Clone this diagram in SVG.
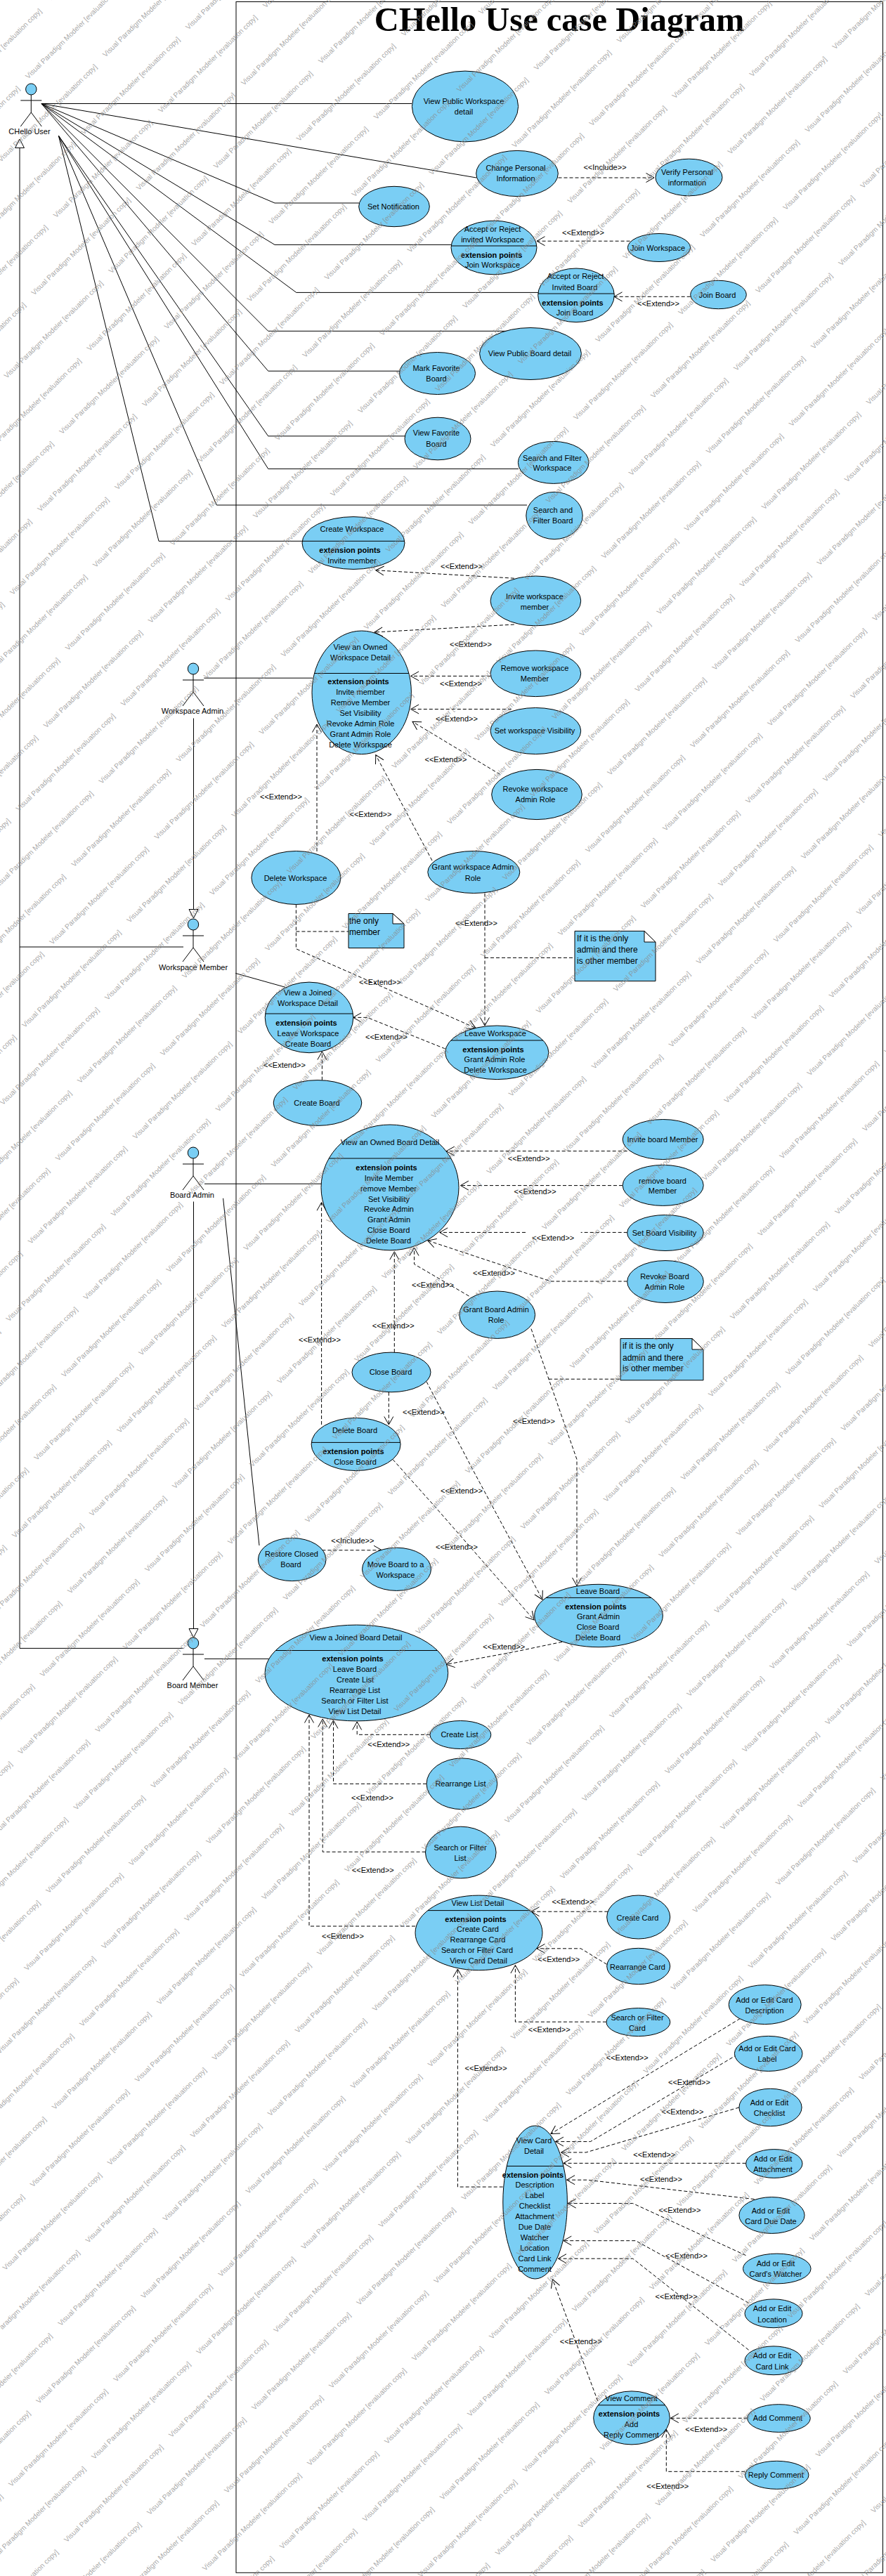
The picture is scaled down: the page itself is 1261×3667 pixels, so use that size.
<svg xmlns="http://www.w3.org/2000/svg" width="1261" height="3667" viewBox="0 0 1261 3667">
<style>
text{font-family:"Liberation Sans",Arial,sans-serif;font-size:11px;fill:#000;text-anchor:middle}
.b{font-weight:bold}
.n{font-size:12px;text-anchor:start}
.title{font-family:"Liberation Serif","Times New Roman",serif;font-size:48.5px;font-weight:bold}
.wt{font-size:10.2px;fill:#8a8a8a;text-anchor:start;fill-opacity:.75}
ellipse{fill:#7acef4;stroke:#000;stroke-width:1}
.l,.a,.d,.g{fill:none;stroke:#000;stroke-width:1}
.d{stroke-dasharray:5 3;marker-end:url(#open)}
.q{fill:none;stroke:#000;stroke-width:1;stroke-dasharray:5 3}
.g{marker-end:url(#tri)}
.note{fill:#7acef4;stroke:#000;stroke-width:1}
.fold{fill:#fff;stroke:#000;stroke-width:1}
</style>
<defs>
<marker id="open" markerUnits="userSpaceOnUse" markerWidth="16" markerHeight="16" viewBox="-13 -8 16 16" refX="0" refY="0" orient="auto"><path d="M-11.5,-6.5L0,0L-11.5,6.5" fill="none" stroke="#000" stroke-width="1"/></marker>
<marker id="tri" markerUnits="userSpaceOnUse" markerWidth="18" markerHeight="18" viewBox="-15 -9 18 18" refX="0" refY="0" orient="auto"><path d="M-12.5,-6.5L0,0L-12.5,6.5Z" fill="#fff" stroke="#000" stroke-width="1"/></marker>
<g id="actor"><ellipse cx="0" cy="0" rx="7.7" ry="8"/><path class="l" d="M-15,16H15M0,8V33M-15,53L0,33L15,53"/></g>
<text id="wm" class="wt" transform="rotate(-44.5)">Visual Paradigm Modeler [evaluation copy]</text>
<g id="wp"><use href="#wm"/><use href="#wm" x="110" y="-31"/></g>
<g id="w8"><use href="#wp"/><use href="#wp" x="78.85" y="79.35"/><use href="#wp" x="157.7" y="158.7"/><use href="#wp" x="236.55" y="238.05"/><use href="#wp" x="315.4" y="317.4"/><use href="#wp" x="394.25" y="396.75"/><use href="#wp" x="473.1" y="476.1"/><use href="#wp" x="551.95" y="555.45"/></g>
<g id="wr"><use href="#w8" x="-630.8" y="-634.8"/><use href="#w8"/><use href="#w8" x="630.8" y="634.8"/><use href="#w8" x="1261.6" y="1269.6"/><use href="#w8" x="1892.4" y="1904.4"/><use href="#w8" x="2523.2" y="2539.2"/></g>
</defs>
<rect width="1261" height="3667" fill="#fff"/>
<g id="frame"><rect x="336" y="2.5" width="920.5" height="3659.8" fill="none" stroke="#000" stroke-width="1"/><text class="title" x="796" y="43.5">CHello Use case Diagram</text></g>

<g id="connectors">
<path class="a" d="M59,147.5H586M59,147.5L678,253M59,147.5L391,289H511M59,147.5L391,348.4H642M59,147.5L421.7,416.4H766M59,147.5L381.7,471.3H722M59,147.5L381.7,528.2H570M83.3,193L381.7,620.8H577M83.3,193L381.7,667.4H738M83.3,193L308.3,719H750M83.3,193L226,770.3H431"/>
<path class="a" d="M290.3,965.2H445M335.3,1385.5L406,1405.3M291,1685.2H457M317.6,1705.8L369,2200M291,2361.4H385"/>
<path class="g" d="M275.5,1022.5V1307"/>
<path class="g" d="M275.5,1710.5V2331"/>
<path class="g" d="M261,1348H28V198"/>
<path class="a" d="M261,2346.4H28V1348"/>
<path class="d" d="M794.5,253H931"/><text x="861" y="242.4">&lt;&lt;Include&gt;&gt;</text>
<path class="d" d="M896.6,343.2H764"/><text x="830" y="335.4">&lt;&lt;Extend&gt;&gt;</text>
<path class="d" d="M982.7,422.3H874"/><text x="937" y="436">&lt;&lt;Extend&gt;&gt;</text>
<path class="d" d="M731.8,823.2L534.8,811.8"/><text x="657" y="810.2">&lt;&lt;Extend&gt;&gt;</text>
<path class="d" d="M731.8,889L533,900"/><text x="670" y="921.4">&lt;&lt;Extend&gt;&gt;</text>
<path class="d" d="M698,962.4H584.6"/><text x="656" y="977">&lt;&lt;Extend&gt;&gt;</text>
<path class="d" d="M727.8,1009.5H584.6"/><text x="650" y="1027">&lt;&lt;Extend&gt;&gt;</text>
<path class="d" d="M711.7,1102.4L587,1027.3"/><text x="634.5" y="1085">&lt;&lt;Extend&gt;&gt;</text>
<path class="d" d="M615,1225L534.8,1074.7"/><text x="527.5" y="1163">&lt;&lt;Extend&gt;&gt;</text>
<path class="d" d="M451,1212V1031"/><text x="400" y="1138">&lt;&lt;Extend&gt;&gt;</text>
<path class="d" d="M690,1271.6V1460"/><text x="678" y="1318">&lt;&lt;Extend&gt;&gt;</text>
<path class="q" d="M690,1363.4H818"/>
<path class="d" d="M421.4,1287.4V1350.7L677,1463.4"/><text x="541" y="1402">&lt;&lt;Extend&gt;&gt;</text>
<path class="q" d="M421.4,1326H496"/>
<path class="d" d="M633.7,1493L522.7,1448.4H502.6"/><text x="550" y="1480">&lt;&lt;Extend&gt;&gt;</text>
<path class="d" d="M458.4,1537.7V1497"/><text x="405" y="1520">&lt;&lt;Extend&gt;&gt;</text>
<path class="d" d="M892.7,1638.6H635.3"/><text x="752.7" y="1653">&lt;&lt;Extend&gt;&gt;</text>
<path class="d" d="M886,1687.6H655.4"/><text x="761.6" y="1700.3">&lt;&lt;Extend&gt;&gt;</text>
<path class="d" d="M892.7,1754.4H826.7M748,1754.4H625.7"/><text x="787.3" y="1766.3">&lt;&lt;Extend&gt;&gt;</text>
<path class="d" d="M892.7,1824H784L608.8,1766"/><text x="703" y="1816">&lt;&lt;Extend&gt;&gt;</text>
<path class="d" d="M667.5,1845L589.5,1799.5V1776"/><text x="616" y="1833">&lt;&lt;Extend&gt;&gt;</text>
<path class="d" d="M561.3,1925V1781.7"/><text x="559.7" y="1891">&lt;&lt;Extend&gt;&gt;</text>
<path class="d" d="M457.6,2028V1711.7"/><text x="455" y="1911">&lt;&lt;Extend&gt;&gt;</text>
<path class="d" d="M553.3,1981.8V2028"/><text x="603" y="2014">&lt;&lt;Extend&gt;&gt;</text>
<path class="d" d="M607,1966.8L675.5,2097L772,2277"/><text x="657" y="2126">&lt;&lt;Extend&gt;&gt;</text>
<path class="d" d="M559,2077.5L619,2144.7L760,2306"/><text x="650" y="2206.4">&lt;&lt;Extend&gt;&gt;</text>
<path class="d" d="M756,1891.6L821,2077.5V2257.4"/><text x="760" y="2027.3">&lt;&lt;Extend&gt;&gt;</text>
<path class="q" d="M780.8,1963.2H883"/>
<path class="d" d="M458.4,2206.8H543.6"/><text x="501.8" y="2196.5">&lt;&lt;Include&gt;&gt;</text>
<path class="d" d="M800,2337.3L727.8,2352.3L635.3,2369.3"/><text x="717.3" y="2348.4">&lt;&lt;Extend&gt;&gt;</text>
<path class="d" d="M612,2469.3H508.2V2451"/><text x="553.3" y="2486.8">&lt;&lt;Extend&gt;&gt;</text>
<path class="d" d="M607,2539.3H474.5V2449"/><text x="530" y="2563">&lt;&lt;Extend&gt;&gt;</text>
<path class="d" d="M605.6,2636.2H459.2V2447"/><text x="530.8" y="2666">&lt;&lt;Extend&gt;&gt;</text>
<path class="d" d="M591,2742H440V2441"/><text x="488" y="2760">&lt;&lt;Extend&gt;&gt;</text>
<path class="d" d="M865.3,2721.2H756"/><text x="815.4" y="2711.4">&lt;&lt;Extend&gt;&gt;</text>
<path class="d" d="M863.7,2796.3L826.7,2773.8H764"/><text x="795.3" y="2793.2">&lt;&lt;Extend&gt;&gt;</text>
<path class="d" d="M862.9,2878.2H733.4V2797.5"/><text x="781.7" y="2892.5">&lt;&lt;Extend&gt;&gt;</text>
<path class="d" d="M715.7,3113.1H651.4V2803"/><text x="691.6" y="2948">&lt;&lt;Extend&gt;&gt;</text>
<path class="d" d="M1053.5,2873.4L784,3037.5"/><text x="892.7" y="2933.2">&lt;&lt;Extend&gt;&gt;</text>
<path class="d" d="M1049.4,2924.8L840.4,3048.6H790.5"/><text x="981" y="2968.4">&lt;&lt;Extend&gt;&gt;</text>
<path class="d" d="M1051.9,3000L834,3064H798.5"/><text x="971.5" y="3010.3">&lt;&lt;Extend&gt;&gt;</text>
<path class="d" d="M1061.5,3079.4H801.8"/><text x="931.2" y="3071.2">&lt;&lt;Extend&gt;&gt;</text>
<path class="d" d="M1073.6,3130.6L836,3103.2H806.6"/><text x="941" y="3106.4">&lt;&lt;Extend&gt;&gt;</text>
<path class="d" d="M1061.5,3210.6L900.7,3136.6H808.2"/><text x="967.4" y="3150.4">&lt;&lt;Extend&gt;&gt;</text>
<path class="d" d="M1065.5,3278.2L904.7,3189.7H801.8"/><text x="977" y="3215.2">&lt;&lt;Extend&gt;&gt;</text>
<path class="d" d="M1065.5,3345.2L900.7,3215.2H794.5"/><text x="962.6" y="3273.1">&lt;&lt;Extend&gt;&gt;</text>
<path class="d" d="M850.8,3418L786.5,3244.8"/><text x="826.7" y="3337.4">&lt;&lt;Extend&gt;&gt;</text>
<path class="d" d="M1063.7,3442.3H954.3"/><text x="1005.3" y="3462.3">&lt;&lt;Extend&gt;&gt;</text>
<path class="d" d="M1060.3,3518.3H948.3V3458.3"/><text x="950.3" y="3543.3">&lt;&lt;Extend&gt;&gt;</text>
</g>

<g id="actor-chello-user"><use href="#actor" x="44.3" y="127"/><text x="42" y="191">CHello User</text></g>
<g id="actor-workspace-admin"><use href="#actor" x="275" y="952"/><text x="274" y="1016">Workspace Admin</text></g>
<g id="actor-workspace-member"><use href="#actor" x="275" y="1316"/><text x="275" y="1381">Workspace Member</text></g>
<g id="actor-board-admin"><use href="#actor" x="275" y="1641"/><text x="273.4" y="1705">Board Admin</text></g>
<g id="actor-board-member"><use href="#actor" x="275" y="2339"/><text x="274" y="2403">Board Member</text></g>

<g id="uc01"><ellipse cx="662" cy="151.5" rx="75.6" ry="50.4"/><text x="660" y="148">View Public Workspace</text><text x="660" y="163">detail</text></g>
<g id="uc02"><ellipse cx="736" cy="247" rx="58.3" ry="32.6"/><text x="734" y="243">Change Personal</text><text x="734" y="258">Information</text></g>
<g id="uc03"><ellipse cx="980.5" cy="252.5" rx="47.5" ry="26.3"/><text x="978" y="249">Verify Personal</text><text x="978" y="264">information</text></g>
<g id="uc04"><ellipse cx="561" cy="294" rx="50.3" ry="28.7"/><text x="560" y="298">Set Notification</text></g>
<g id="uc05"><ellipse cx="703" cy="352.5" rx="61" ry="38.3"/><path class="l" d="M642.1,350H763.9"/><text x="701" y="329.5">Accept or Reject</text><text x="701" y="344.5">invited Workspace</text><text class="b" x="699.6" y="366.6">extension points</text><text x="701" y="381">Join Workspace</text></g>
<g id="uc06"><ellipse cx="938" cy="352.5" rx="44.6" ry="20"/><text x="936" y="356.5">Join Workspace</text></g>
<g id="uc07"><ellipse cx="820" cy="420.3" rx="54.3" ry="38.3"/><path class="l" d="M765.8,418H874.2"/><text x="819" y="397.4">Accept or Reject</text><text x="818" y="412.5">Invited Board</text><text class="b" x="815" y="434.6">extension points</text><text x="818" y="449.3">Join Board</text></g>
<g id="uc08"><ellipse cx="1022.5" cy="419.5" rx="39.8" ry="20.2"/><text x="1021" y="423.5">Join Board</text></g>
<g id="uc09"><ellipse cx="755" cy="503.5" rx="72.4" ry="37"/><text x="754" y="507">View Public Board detail</text></g>
<g id="uc10"><ellipse cx="622.5" cy="531.5" rx="54" ry="30"/><text x="621" y="528">Mark Favorite</text><text x="621" y="543">Board</text></g>
<g id="uc11"><ellipse cx="623" cy="624.5" rx="47" ry="30.3"/><text x="621" y="620">View Favorite</text><text x="621" y="636">Board</text></g>
<g id="uc12"><ellipse cx="787.7" cy="658.4" rx="50.3" ry="30"/><text x="786" y="655.6">Search and Filter</text><text x="786" y="670.3">Workspace</text></g>
<g id="uc13"><ellipse cx="789" cy="734" rx="40.2" ry="33.6"/><text x="787" y="730.4">Search and</text><text x="787" y="745.4">Filter Board</text></g>
<g id="uc14"><ellipse cx="503" cy="773" rx="73" ry="37.4"/><path class="l" d="M430.1,770.3H575.9"/><text x="501" y="757.3">Create Workspace</text><text class="b" x="498" y="786.5">extension points</text><text x="501" y="801.5">Invite member</text></g>
<g id="uc15"><ellipse cx="762.4" cy="855.4" rx="64.3" ry="35.4"/><text x="761" y="852.5">Invite workspace</text><text x="761" y="867.6">member</text></g>
<g id="uc16"><ellipse cx="514.7" cy="985.8" rx="70.7" ry="87.8"/><path class="l" d="M447.5,958.5H581.9"/><text x="513" y="925.3">View an Owned</text><text x="513" y="940.3">Workspace Detail</text><text class="b" x="510" y="974.3">extension points</text><text x="513" y="989.4">Invite member</text><text x="513" y="1004.4">Remove Member</text><text x="513" y="1019.4">Set Visibility</text><text x="513" y="1034">Revoke Admin Role</text><text x="513" y="1049">Grant Admin Role</text><text x="513" y="1064">Delete Workspace</text></g>
<g id="uc17"><ellipse cx="762.4" cy="958.8" rx="64.3" ry="32.8"/><text x="761" y="955.4">Remove workspace</text><text x="761" y="970.4">Member</text></g>
<g id="uc18"><ellipse cx="762.4" cy="1040.5" rx="64.3" ry="33"/><text x="761" y="1044">Set workspace Visibility</text></g>
<g id="uc19"><ellipse cx="764" cy="1131" rx="64.3" ry="35.6"/><text x="762" y="1127.4">Revoke workspace</text><text x="762" y="1142.4">Admin Role</text></g>
<g id="uc20"><ellipse cx="421.4" cy="1249.5" rx="63.5" ry="38"/><text x="420.5" y="1253.5">Delete Workspace</text></g>
<g id="uc21"><ellipse cx="674.3" cy="1241.5" rx="65.5" ry="30"/><text x="673" y="1238">Grant workspace Admin</text><text x="673" y="1253.5">Role</text></g>
<g id="note1"><path class="note" d="M496,1300.5H559L575,1315V1349.5H496Z"/><path class="fold" d="M559,1300.5V1315H575Z"/><text class="n" x="497" y="1315">the only</text><text class="n" x="497" y="1331">member</text></g>
<g id="note2"><path class="note" d="M818,1325.4H917L933,1341V1396.6H818Z"/><path class="fold" d="M917,1325.4V1341H933Z"/><text class="n" x="821" y="1340">If it is the only</text><text class="n" x="821" y="1356">admin and there</text><text class="n" x="821" y="1372">is other member</text></g>
<g id="uc22"><ellipse cx="440" cy="1448.4" rx="62.8" ry="50.3"/><path class="l" d="M377.6,1443H502.4"/><text x="438" y="1417">View a Joined</text><text x="438" y="1432">Workspace Detail</text><text class="b" x="436" y="1459.5">extension points</text><text x="438.5" y="1474.5">Leave Workspace</text><text x="438.5" y="1489.5">Create Board</text></g>
<g id="uc23"><ellipse cx="707.3" cy="1498.3" rx="73.6" ry="38.3"/><path class="l" d="M641.6,1481H773"/><text x="705" y="1475.3">Leave Workspace</text><text class="b" x="702" y="1497.5">extension points</text><text x="704" y="1512">Grant Admin Role</text><text x="705" y="1527">Delete Workspace</text></g>
<g id="uc24"><ellipse cx="452" cy="1570" rx="62.8" ry="32.4"/><text x="451" y="1574">Create Board</text></g>
<g id="uc25"><ellipse cx="555" cy="1690.4" rx="98" ry="89.4"/><path class="l" d="M468.1,1649H641.9"/><text x="555" y="1629.5">View an Owned Board Detail</text><text class="b" x="550" y="1666">extension points</text><text x="553.5" y="1680.5">Invite Member</text><text x="553" y="1695.5">remove Member</text><text x="553.5" y="1710.6">Set Visibility</text><text x="553.5" y="1725">Revoke Admin</text><text x="553.5" y="1740">Grant Admin</text><text x="553" y="1755">Close Board</text><text x="553" y="1770">Delete Board</text></g>
<g id="uc26"><ellipse cx="943.7" cy="1622" rx="57.5" ry="28.5"/><text x="943" y="1626">Invite board Member</text></g>
<g id="uc27"><ellipse cx="943.7" cy="1687.4" rx="57.5" ry="29"/><text x="943" y="1684.5">remove board</text><text x="943" y="1699">Member</text></g>
<g id="uc28"><ellipse cx="947" cy="1755" rx="54.3" ry="25.5"/><text x="945.5" y="1759">Set Board Visibility</text></g>
<g id="uc29"><ellipse cx="947" cy="1824.5" rx="54.3" ry="30"/><text x="946" y="1821.3">Revoke Board</text><text x="946" y="1836.3">Admin Role</text></g>
<g id="uc30"><ellipse cx="707.7" cy="1871.7" rx="53.9" ry="33.7"/><text x="706" y="1868">Grant Board Admin</text><text x="706" y="1883.4">Role</text></g>
<g id="note3"><path class="note" d="M883,1905.5H985L1001,1921V1964.8H883Z"/><path class="fold" d="M985,1905.5V1921H1001Z"/><text class="n" x="886" y="1920">if it is the only</text><text class="n" x="886" y="1937">admin and there</text><text class="n" x="886" y="1952">is other member</text></g>
<g id="uc31"><ellipse cx="557" cy="1953.4" rx="56" ry="28.3"/><text x="556" y="1957">Close Board</text></g>
<g id="uc32"><ellipse cx="506.6" cy="2056" rx="63.5" ry="37.6"/><path class="l" d="M443.2,2053.4H570"/><text x="505" y="2040">Delete Board</text><text class="b" x="503" y="2069.6">extension points</text><text x="505.5" y="2084.6">Close Board</text></g>
<g id="uc33"><ellipse cx="415.7" cy="2220" rx="48.3" ry="30.6"/><text x="415" y="2216.3">Restore Closed</text><text x="414" y="2231.3">Board</text></g>
<g id="uc34"><ellipse cx="564.5" cy="2233.8" rx="49" ry="30.6"/><text x="563" y="2231">Move Board to a</text><text x="563" y="2246">Workspace</text></g>
<g id="uc35"><ellipse cx="852" cy="2300" rx="91.3" ry="44.7"/><path class="l" d="M777.2,2274.4H926.8"/><text x="851" y="2269.3">Leave Board</text><text class="b" x="848" y="2290.6">extension points</text><text x="851.5" y="2305">Grant Admin</text><text x="851" y="2320">Close Board</text><text x="851" y="2335">Delete Board</text></g>
<g id="uc36"><ellipse cx="507.4" cy="2381.5" rx="130.3" ry="68.4"/><path class="l" d="M392.2,2349.5H622.6"/><text x="506.5" y="2335">View a Joined Board Detail</text><text class="b" x="502" y="2365.4">extension points</text><text x="505" y="2380.4">Leave Board</text><text x="505.5" y="2395.4">Create List</text><text x="505" y="2410.4">Rearrange List</text><text x="505" y="2425">Search or Filter List</text><text x="505" y="2440">View List Detail</text></g>
<g id="uc37"><ellipse cx="655.4" cy="2469.5" rx="43.4" ry="20"/><text x="654" y="2473.3">Create List</text></g>
<g id="uc38"><ellipse cx="657.4" cy="2539.3" rx="50.3" ry="36.4"/><text x="655.5" y="2543.3">Rearrange List</text></g>
<g id="uc39"><ellipse cx="655.8" cy="2637" rx="50.3" ry="36.8"/><text x="655" y="2633.5">Search or Filter</text><text x="655" y="2648.5">List</text></g>
<g id="uc40"><ellipse cx="681.5" cy="2751.4" rx="90.5" ry="53.3"/><path class="l" d="M608.9,2719.6H754.1"/><text x="680" y="2713">View List Detail</text><text class="b" x="677" y="2735.5">extension points</text><text x="680" y="2750">Create Card</text><text x="680" y="2765">Rearrange Card</text><text x="679" y="2780">Search or Filter Card</text><text x="681" y="2795">View Card Detail</text></g>
<g id="uc41"><ellipse cx="908.7" cy="2729" rx="45" ry="31"/><text x="907.5" y="2733.5">Create Card</text></g>
<g id="uc42"><ellipse cx="908.7" cy="2799" rx="45" ry="25.7"/><text x="907.5" y="2803.5">Rearrange Card</text></g>
<g id="uc43"><ellipse cx="908.4" cy="2878.6" rx="45.4" ry="20"/><text x="907" y="2875.5">Search or Filter</text><text x="907" y="2890.5">Card</text></g>
<g id="uc44"><ellipse cx="1088.7" cy="2853.6" rx="51.5" ry="28"/><text x="1088" y="2850.5">Add or Edit Card</text><text x="1088" y="2865.6">Description</text></g>
<g id="uc45"><ellipse cx="1093.7" cy="2923.4" rx="48.3" ry="25"/><text x="1092" y="2920">Add or Edit Card</text><text x="1092" y="2935">Label</text></g>
<g id="uc46"><ellipse cx="1096.5" cy="3000" rx="44.6" ry="26.7"/><text x="1095" y="2996.5">Add or Edit</text><text x="1095" y="3011.5">Checklist</text></g>
<g id="uc47"><ellipse cx="1101.8" cy="3080" rx="40.2" ry="20.4"/><text x="1100" y="3076.5">Add or Edit</text><text x="1100" y="3091.5">Attachment</text></g>
<g id="uc48"><ellipse cx="1098.5" cy="3153.5" rx="46.6" ry="25.9"/><text x="1097" y="3150.5">Add or Edit</text><text x="1097" y="3165.5">Card Due Date</text></g>
<g id="uc49"><ellipse cx="1105.8" cy="3229.5" rx="48.3" ry="21.4"/><text x="1104" y="3226.2">Add or Edit</text><text x="1104" y="3241.2">Card's Watcher</text></g>
<g id="uc50"><ellipse cx="1101" cy="3293.3" rx="41" ry="20.4"/><text x="1099" y="3290.4">Add or Edit</text><text x="1099" y="3305.5">Location</text></g>
<g id="uc51"><ellipse cx="1101" cy="3360.3" rx="41" ry="20.4"/><text x="1099" y="3357.4">Add or Edit</text><text x="1099" y="3372.5">Card Link</text></g>
<g id="uc52"><ellipse cx="761.6" cy="3135" rx="45.8" ry="109"/><path class="l" d="M721.3,3083.5H801.9"/><text x="760" y="3051">View Card</text><text x="760" y="3066">Detail</text><text class="b" x="758.5" y="3099.8">extension points</text><text x="761" y="3114.2">Description</text><text x="761" y="3129.2">Label</text><text x="761" y="3144.1">Checklist</text><text x="761" y="3159.1">Attachment</text><text x="761" y="3174">Due Date</text><text x="761" y="3189">Watcher</text><text x="761" y="3203.9">Location</text><text x="761" y="3219.2">Card Link</text><text x="761" y="3234.1">Comment</text></g>
<g id="uc53"><ellipse cx="899" cy="3441.9" rx="54.3" ry="38"/><path class="l" d="M851.3,3423.8H946.7"/><text x="898.5" y="3418.2">View Comment</text><text class="b" x="895.5" y="3440.4">extension points</text><text x="898.5" y="3455.4">Add</text><text x="898.5" y="3470.3">Reply Comment</text></g>
<g id="uc54"><ellipse cx="1108.5" cy="3442.5" rx="44.8" ry="19.8"/><text x="1107" y="3446.3">Add Comment</text></g>
<g id="uc55"><ellipse cx="1105.7" cy="3523.3" rx="45.3" ry="20"/><text x="1104.3" y="3527.3">Reply Comment</text></g>

<g id="watermark">
<use href="#wr" x="-2766" y="1181.4"/><use href="#wr" x="-2538" y="1111.4"/><use href="#wr" x="-2310" y="1041.4"/><use href="#wr" x="-2082" y="971.4"/><use href="#wr" x="-1854" y="901.4"/><use href="#wr" x="-1626" y="831.4"/><use href="#wr" x="-1398" y="761.4"/><use href="#wr" x="-1170" y="691.4"/><use href="#wr" x="-942" y="621.4"/><use href="#wr" x="-714" y="551.4"/><use href="#wr" x="-486" y="481.4"/><use href="#wr" x="-258" y="411.4"/><use href="#wr" x="-30" y="341.4"/><use href="#wr" x="198" y="271.4"/><use href="#wr" x="426" y="201.4"/><use href="#wr" x="654" y="131.4"/><use href="#wr" x="882" y="61.4"/><use href="#wr" x="1110" y="-8.6"/>
</g>
</svg>
